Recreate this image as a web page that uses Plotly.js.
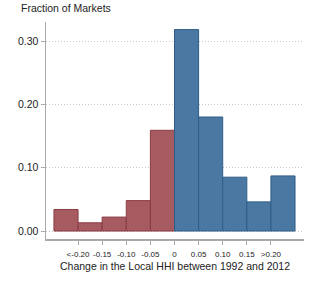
<!DOCTYPE html>
<html><head><meta charset="utf-8">
<script src="https://cdn.plot.ly/plotly-3.0.1.min.js"></script>
<style>html,body{margin:0;padding:0;background:#fff}#c{width:314px;height:289px}</style>
</head><body><div id="c"></div>
<script>
const binCenters = [-0.225,-0.175,-0.125,-0.075,-0.025,0.025,0.075,0.125,0.175,0.225];
const fractions = [0.034,0.013,0.022,0.048,0.159,0.318,0.180,0.085,0.046,0.087];
const tickVals = [-0.20,-0.15,-0.10,-0.05,0,0.05,0.10,0.15,0.20];
const tickText = ["<-0.20","-0.15","-0.10","-0.05","0","0.05","0.10","0.15",">0.20"];
const yTickVals = [0,0.1,0.2,0.3];
const yTickText = ["0.00","0.10","0.20","0.30"];

const negX=[],negY=[],posX=[],posY=[];
binCenters.forEach((c,i)=>{ if(c<0){negX.push(c);negY.push(fractions[i]);} else {posX.push(c);posY.push(fractions[i]);} });

const traces = [
 {type:'bar',x:negX,y:negY,width:0.05,marker:{color:'#a65b61',line:{color:'#8a3b43',width:1}},hoverinfo:'none'},
 {type:'bar',x:posX,y:posY,width:0.05,marker:{color:'#4a78a3',line:{color:'#2e5d88',width:1}},hoverinfo:'none'}
];
const layout = {
 width:314,height:289,showlegend:false,
 margin:{l:46,r:10,t:22,b:50},
 paper_bgcolor:'#fff',plot_bgcolor:'#fff',
 font:{family:'Liberation Sans, Arial, sans-serif',color:'#222'},
 annotations:[
  {text:'Fraction of Markets',xref:'paper',yref:'paper',x:-0.105,y:1.0,yshift:14,xanchor:'left',yanchor:'middle',showarrow:false,font:{size:10.5,color:'#222'}},
  {text:'Change in the Local HHI between 1992 and 2012',xref:'paper',yref:'paper',x:0.5,y:-0.125,xanchor:'center',yanchor:'middle',showarrow:false,font:{size:10.5,color:'#222'}}
 ],
 xaxis:{range:[-0.2665,0.2686],tickvals:tickVals,ticktext:tickText,tickfont:{size:8},tickangle:0,ticklabelstandoff:3,
   showline:true,linecolor:'#aaa',linewidth:1.5,ticks:'outside',ticklen:4,tickcolor:'#aaa',showgrid:false,zeroline:false},
 yaxis:{range:[-0.0126,0.33],tickvals:yTickVals,ticktext:yTickText,tickfont:{size:10.5},
   showline:true,linecolor:'#aaa',linewidth:1.5,ticks:'outside',ticklen:4,tickcolor:'#aaa',
   showgrid:true,gridcolor:'#c8c8c8',griddash:'1px,2px',gridwidth:1,zeroline:false},
 bargap:0
};
Plotly.newPlot('c',traces,layout,{staticPlot:true,displayModeBar:false});
</script></body></html>
